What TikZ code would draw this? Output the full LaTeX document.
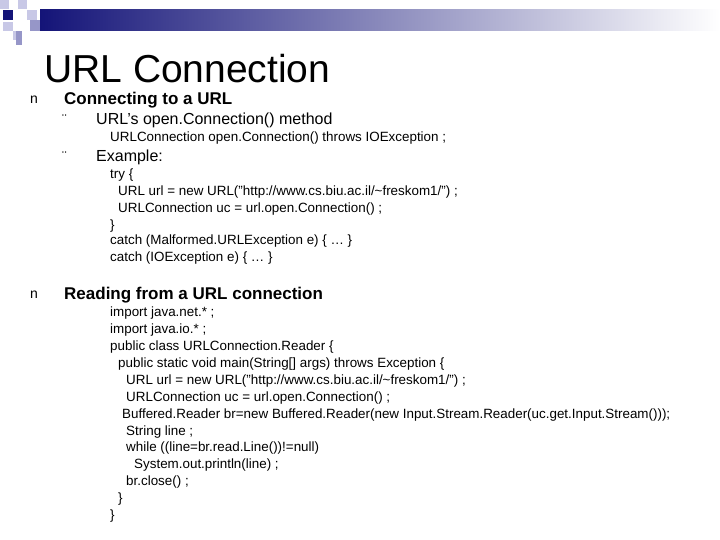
\documentclass[tikz,border=0pt]{standalone}
\usepackage{fontspec}
\setmainfont{Liberation Sans}
\begin{document}
\begin{tikzpicture}[x=1pt,y=-1pt,
  t/.style={anchor=west,inner sep=0pt},
  code/.style={t,font=\fontsize{13.4}{14}\selectfont},
  l1/.style={t,font=\fontsize{17}{20}\selectfont\bfseries},
  l2/.style={t,font=\fontsize{16}{19}\selectfont},
  b1/.style={t,font=\fontsize{14}{14}\selectfont},
  b2/.style={t,font=\fontsize{14}{14}\selectfont}]
\useasboundingbox (0,0) rectangle (720,540);
\definecolor{navy}{RGB}{20,20,120}
\definecolor{lav}{RGB}{200,200,230}
\definecolor{lav2}{RGB}{150,150,200}
\shade[left color=navy,right color=white] (40,10) rectangle (720,31);
\fill[lav] (0,0) rectangle (9,9);
\fill[lav] (18,0) rectangle (27,9);
\fill[navy] (3,10) rectangle (13,20);
\fill[lav] (27,10) rectangle (37,20);
\fill[lav2] (30,20) rectangle (40,31);
\fill[lav] (3,22) rectangle (13,31);
\fill[lav] (13,31) rectangle (22,40);
\fill[lav2] (16,31) rectangle (22,45);
\node[t,font=\fontsize{39}{44}\selectfont] (title) at (44,69) {URL Connection};
\node[b1] (n1) at (30,100) {n};
\node[l1] (h1) at (64,100) {Connecting to a URL};
\node[b2] (s1) at (62,120) {¨};
\node[l2] (h2) at (96,120) {URL's open.Connection() method};
\node[code] (c0) at (110,138) {URLConnection open.Connection() throws IOException ;};
\node[b2] (s2) at (62,157) {¨};
\node[l2] (h3) at (96,157) {Example:};
\node[code] at (110,175) {try \{};
\node[code] at (118,192) {URL url = new URL("http://www.cs.biu.ac.il/\textasciitilde freskom1/") ;};
\node[code] at (118,209) {URLConnection uc = url.open.Connection() ;};
\node[code] at (110,226) {\}};
\node[code] at (110,241) {catch (Malformed.URLException e) \{ … \}};
\node[code] at (110,258) {catch (IOException e) \{ … \}};
\node[b1] (n2) at (30,295) {n};
\node[l1] (h4) at (64,295) {Reading from a URL connection};
\node[code] at (110,313) {import java.net.* ;};
\node[code] at (110,330) {import java.io.* ;};
\node[code] at (110,347) {public class URLConnection.Reader \{};
\node[code] at (118,364) {public static void main(String[] args) throws Exception \{};
\node[code] at (126,381) {URL url = new URL("http://www.cs.biu.ac.il/\textasciitilde freskom1/") ;};
\node[code] at (126,398) {URLConnection uc = url.open.Connection() ;};
\node[code] at (122,415) {Buffered.Reader br=new Buffered.Reader(new Input.Stream.Reader(uc.get.Input.Stream()));};
\node[code] at (126,432) {String line ;};
\node[code] at (126,448) {while ((line=br.read.Line())!=null)};
\node[code] at (134,465) {System.out.println(line) ;};
\node[code] at (126,482) {br.close() ;};
\node[code] at (118,499) {\}};
\node[code] at (110,516) {\}};
\end{tikzpicture}
\end{document}
